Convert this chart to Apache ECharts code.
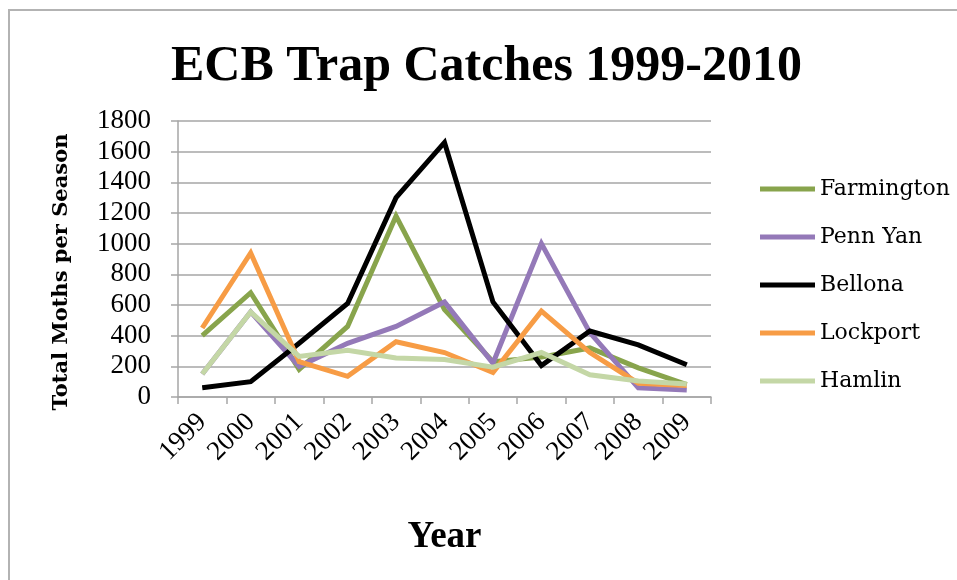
<!DOCTYPE html>
<html>
<head>
<meta charset="utf-8">
<title>ECB Trap Catches 1999-2010</title>
<script src="https://cdn.jsdelivr.net/npm/echarts@6/dist/echarts.min.js"></script>
<style>
  html, body { margin: 0; padding: 0; background: #ffffff; }
  #chart { width: 957px; height: 580px; }
</style>
</head>
<body>
<div id="chart"></div>
<script>
// Season totals of European corn borer moths caught per trap site
const years = ['1999', '2000', '2001', '2002', '2003', '2004', '2005', '2006', '2007', '2008', '2009'];
const farmington = [400, 680, 180, 460, 1180, 570, 230, 260, 320, 190, 80];
const pennYan    = [150, 555, 200, 350, 460, 620, 220, 1000, 420, 60, 45];
const bellona    = [60, 100, 350, 610, 1300, 1660, 620, 205, 430, 340, 210];
const lockport   = [450, 940, 230, 135, 360, 290, 160, 560, 290, 90, 75];
const hamlin     = [150, 555, 265, 305, 255, 245, 195, 290, 145, 105, 85];
const yTicks = { min: 0, max: 1800, step: 200 };

const siteNames  = ['Farmington', 'Penn Yan', 'Bellona', 'Lockport', 'Hamlin'];
const siteValues = [farmington, pennYan, bellona, lockport, hamlin];
const siteColors = ['#88a44c', '#9479b8', '#000000', '#f79c45', '#c4d7a6'];

const serif = 'Liberation Serif';
const gridGrey = '#a6a6a6';

const chart = echarts.init(document.getElementById('chart'), null, { renderer: 'canvas' });

chart.setOption({
  backgroundColor: '#ffffff',
  animation: false,
  title: {
    text: 'ECB Trap Catches 1999-2010',
    left: 171,
    top: 42,
    padding: 0,
    textStyle: { fontFamily: serif, fontWeight: 'bold', fontSize: 50, color: '#000000' }
  },
  graphic: [{
    type: 'rect',
    shape: { x: 9, y: 10, width: 1000, height: 620 },
    style: { fill: 'none', stroke: '#b3b3b3', lineWidth: 2 },
    silent: true
  }],
  legend: {
    orient: 'vertical',
    left: 760,
    top: 177,
    padding: 0,
    icon: 'rect',
    itemWidth: 55,
    itemHeight: 5,
    itemGap: 24,
    data: siteNames,
    textStyle: { fontFamily: 'DejaVu Serif', fontSize: 22, color: '#000000', lineHeight: 24 }
  },
  grid: { left: 178, right: 246, top: 121, bottom: 183, containLabel: false },
  xAxis: {
    type: 'category',
    data: years,
    boundaryGap: true,
    name: 'Year',
    nameLocation: 'middle',
    nameGap: 122,
    nameTextStyle: { fontFamily: serif, fontWeight: 'bold', fontSize: 37, color: '#000000' },
    axisLine: { lineStyle: { color: gridGrey, width: 1.5 } },
    axisTick: { show: true, length: 7, interval: 0, lineStyle: { color: gridGrey, width: 1.5 } },
    axisLabel: { rotate: 45, margin: 21, interval: 0, fontFamily: serif, fontSize: 27, color: '#000000' },
    splitLine: { show: false }
  },
  yAxis: {
    type: 'value',
    min: yTicks.min,
    max: yTicks.max,
    interval: yTicks.step,
    name: 'Total Moths per Season',
    nameLocation: 'middle',
    nameGap: 106,
    nameTextStyle: { fontFamily: 'DejaVu Serif', fontWeight: 'bold', fontSize: 21, color: '#000000', padding: [0, 26, 0, 0] },
    axisLine: { show: true, lineStyle: { color: gridGrey, width: 1.5 } },
    axisTick: { show: true, length: 7, lineStyle: { color: gridGrey, width: 1.5 } },
    axisLabel: { margin: 27, fontFamily: serif, fontSize: 27, color: '#000000', formatter: (v) => String(v) },
    splitLine: { show: true, lineStyle: { color: gridGrey, width: 1.5 } }
  },
  series: siteNames.map((name, i) => ({
    name: name,
    type: 'line',
    data: siteValues[i],
    symbol: 'none',
    smooth: false,
    color: siteColors[i],
    lineStyle: { color: siteColors[i], width: 5, join: 'miter' },
    emphasis: { disabled: true }
  }))
});
</script>
</body>
</html>
